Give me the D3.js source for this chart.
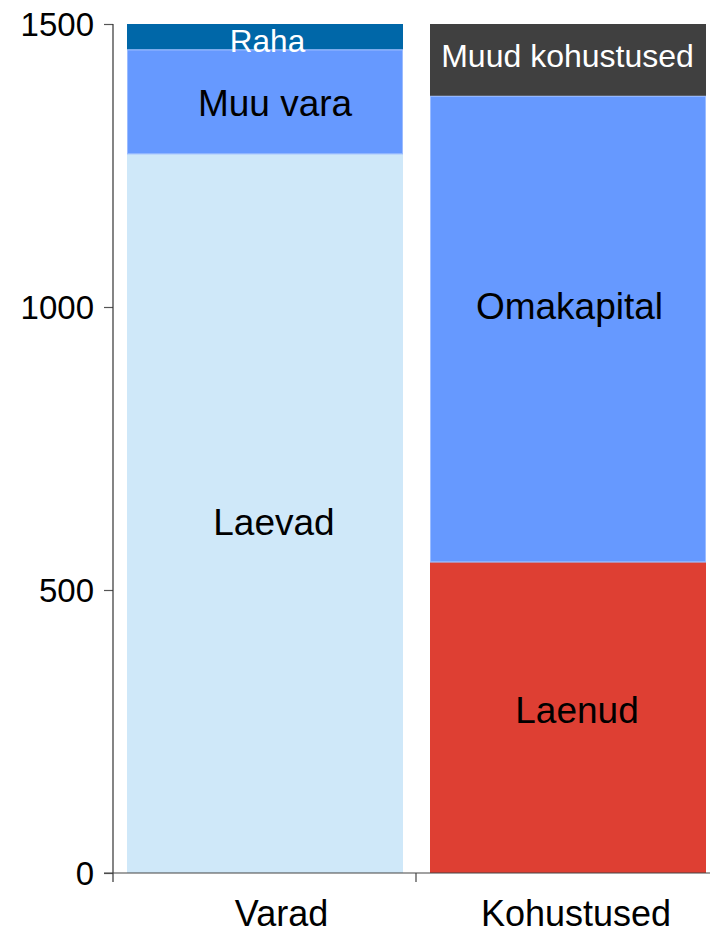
<!DOCTYPE html>
<html>
<head>
<meta charset="utf-8">
<script src="https://cdn.jsdelivr.net/npm/d3@7"></script>
<style>
  html, body { margin: 0; padding: 0; background: #ffffff; }
  svg { display: block; font-family: "Liberation Sans", Arial, sans-serif; }
</style>
</head>
<body>
<svg id="chart" width="710" height="933"></svg>
<script>
// ---- data ----
const categories = ["Varad", "Kohustused"];
const segmentNames = [
  ["Laevad", "Muu vara", "Raha"],
  ["Laenud", "Omakapital", "Muud kohustused"]
];
const segmentValues = [
  [1270, 185, 45],
  [549, 824, 127]
];
const tickValues = [0, 500, 1000, 1500];

// ---- styles ----
const segmentColors = [
  ["#cfe8f9", "#6699ff", "#0067a8"],
  ["#de3f33", "#6699ff", "#404040"]
];
const labelColors = [
  ["#000", "#000", "#fff"],
  ["#000", "#000", "#fff"]
];
const labelSizes = [
  [37, 37, 31.5],
  [37, 37, 32]
];
// label nudges [dx, dy] relative to segment centre
const labelNudges = [
  [[9.5, 21.5], [10.5, 14], [3, 15]],
  [[9.5, 5.5], [2, -9.7], [0, 6.7]]
];
const categoryNudges = [17, 8.5];

const svg = d3.select("#chart");
const margin = { left: 113, top: 24, bottom: 873, right: 719 };

const y = d3.scaleLinear().domain([0, 1500]).range([margin.bottom, margin.top]);
const x = d3.scaleBand().domain(categories).range([margin.left, margin.right]).padding(0);
const inset = 14;
const barW = x.bandwidth() - 27;

// build stacked segments
const segs = [];
categories.forEach((c, i) => {
  let acc = 0;
  segmentValues[i].forEach((v, j) => {
    segs.push({
      cat: c, i, j, name: segmentNames[i][j],
      y0: acc, y1: acc + v,
      color: segmentColors[i][j],
      textColor: labelColors[i][j],
      size: labelSizes[i][j],
      nudge: labelNudges[i][j]
    });
    acc += v;
  });
});

// bars
svg.append("g").selectAll("rect").data(segs).join("rect")
  .attr("x", d => x(d.cat) + inset)
  .attr("width", barW)
  .attr("y", d => y(d.y1))
  .attr("height", d => y(d.y0) - y(d.y1))
  .attr("fill", d => d.color);

// thin lighter separators on blue segments
svg.append("g").selectAll("rect").data(segs.filter(d => d.color === "#6699ff")).join("rect")
  .attr("x", d => x(d.cat) + inset + 0.5)
  .attr("width", barW - 1)
  .attr("y", d => y(d.y1) + 0.5)
  .attr("height", d => y(d.y0) - y(d.y1) - 1)
  .attr("fill", "none")
  .attr("stroke", "#9bbcff")
  .attr("stroke-width", 1);

// segment labels
svg.append("g").selectAll("text").data(segs).join("text")
  .attr("x", d => x(d.cat) + x.bandwidth() / 2 + d.nudge[0])
  .attr("y", d => (y(d.y0) + y(d.y1)) / 2 + d.nudge[1])
  .attr("text-anchor", "middle")
  .attr("font-size", d => d.size)
  .attr("fill", d => d.textColor)
  .text(d => d.name);

// y axis
const yAxis = d3.axisLeft(y).tickValues(tickValues).tickSize(9).tickPadding(10).tickFormat(d3.format("d"));
const gy = svg.append("g").attr("transform", `translate(${margin.left},0)`).call(yAxis);
gy.select(".domain").remove();
gy.selectAll(".tick line").attr("stroke", "#555").attr("stroke-width", 1.2);
gy.selectAll(".tick text").attr("font-size", 33).attr("fill", "#000")
  .attr("font-family", "'Liberation Sans', Arial, sans-serif").attr("dy", "0.36em");
// y axis line (extends slightly below baseline)
svg.append("line")
  .attr("x1", margin.left).attr("x2", margin.left)
  .attr("y1", y(1500)).attr("y2", y(0) + 9)
  .attr("stroke", "#333").attr("stroke-width", 1.2);

// x axis line
svg.append("line")
  .attr("x1", margin.left - 9).attr("x2", margin.right)
  .attr("y1", y(0)).attr("y2", y(0))
  .attr("stroke", "#444").attr("stroke-width", 1.2);
// category boundary ticks
const boundaries = categories.slice(1).map(c => x(c)).concat([x.range()[1]]);
svg.append("g").selectAll("line").data(boundaries).join("line")
  .attr("x1", d => d).attr("x2", d => d)
  .attr("y1", y(0)).attr("y2", y(0) + 9)
  .attr("stroke", "#444").attr("stroke-width", 1.2);

// category labels
svg.append("g").selectAll("text").data(categories).join("text")
  .attr("x", (d, i) => x(d) + x.bandwidth() / 2 + categoryNudges[i])
  .attr("y", 926)
  .attr("text-anchor", "middle")
  .attr("font-size", 36)
  .attr("fill", "#000")
  .text(d => d);
</script>
</body>
</html>
